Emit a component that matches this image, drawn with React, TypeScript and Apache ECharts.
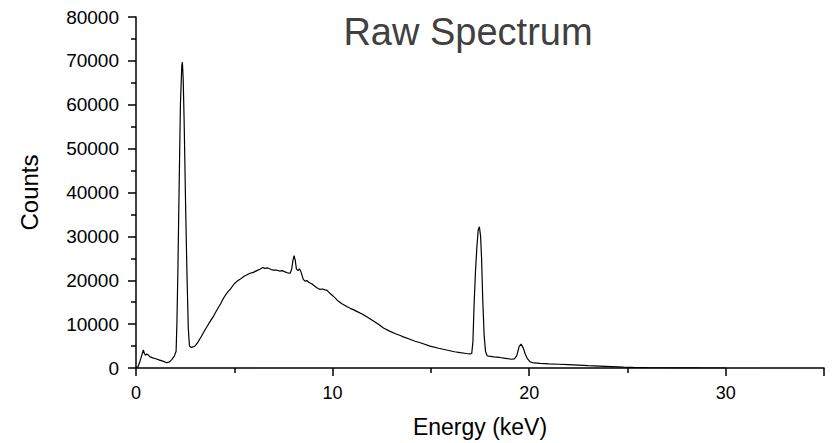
import React, { useEffect, useRef } from "react";
import * as echarts from "echarts";

const energy: number[] = [
  0.0, 0.1, 0.2, 0.3, 0.37, 0.43, 0.48, 0.55, 0.62, 0.7, 0.85, 1.0, 1.2, 1.4, 1.56, 1.7, 1.82, 1.95,
  2.04, 2.08, 2.13, 2.19, 2.26, 2.33, 2.36, 2.4, 2.45, 2.52, 2.59, 2.66, 2.72, 2.8, 2.9, 3.0,
  3.15, 3.3, 3.5, 3.7, 3.93, 4.1, 4.3, 4.45, 4.61, 4.8, 5.0, 5.12, 5.29, 5.5, 5.8, 5.97, 6.15,
  6.3, 6.45, 6.55, 6.7, 6.85, 6.99, 7.15, 7.3, 7.45, 7.58, 7.7, 7.84, 7.92, 7.98, 8.04, 8.1,
  8.16, 8.24, 8.32, 8.4, 8.51, 8.6, 8.7, 8.8, 8.94, 9.05, 9.2, 9.36, 9.5, 9.62, 9.72, 9.8,
  9.95, 10.1, 10.3, 10.5, 10.72, 10.9, 11.05, 11.23, 11.5, 11.8, 12.08, 12.35, 12.59, 12.9,
  13.2, 13.44, 13.6, 13.9, 14.2, 14.5, 14.96, 15.4, 15.8, 16.2, 16.49, 16.8, 17.0, 17.08,
  17.14, 17.2, 17.27, 17.34, 17.41, 17.47, 17.53, 17.58, 17.64, 17.71, 17.78, 17.86, 17.95,
  18.2, 18.5, 18.8, 19.1, 19.25, 19.37, 19.49, 19.59, 19.71, 19.8, 19.9, 20.05, 20.25, 20.56,
  21.0, 21.5, 22.0, 22.5, 23.0, 23.6, 24.2, 24.8, 25.3, 26.0, 26.8, 27.5, 28.3, 29.0, 30.0,
];

const counts: number[] = [
  0, 300, 1500, 3000, 4100, 3300, 2900, 3200, 3000, 2600, 2300, 2100, 1800, 1500, 1200, 1400, 1900, 2700,
  3800, 10000, 22000, 40000, 60000, 69000, 69700, 66000, 56000, 38000, 22000, 9000, 5000, 4700, 4800, 5000,
  5900, 7000, 8600, 10100, 11700, 13100, 14600, 15900, 17000, 18000, 19200, 19700, 20200, 20900, 21600, 21800, 22200,
  22500, 22900, 22700, 22800, 22500, 22300, 22300, 22100, 22200, 21900, 21700, 21600, 22500, 24400, 25600, 24600,
  22600, 22200, 22600, 21800, 20200, 19800, 19900, 19500, 19200, 18800, 18300, 17900, 18000, 17800, 17700, 17300,
  16700, 16100, 15200, 14600, 14000, 13600, 13300, 12900, 12300, 11500, 10700, 9900, 9100, 8400,
  7800, 7400, 7100, 6600, 6100, 5700, 5000, 4500, 4100, 3700, 3500, 3300, 3200, 3300,
  6000, 14500, 22000, 27500, 31500, 32200, 30000, 25000, 15500, 7500, 3800, 2800, 2700,
  2550, 2400, 2200, 2000, 2100, 2800, 4860, 5470, 4480, 3200, 2200, 1400, 1150, 1050,
  950, 850, 750, 650, 550, 450, 330, 220, 150, 100, 60, 30, 10, 0, 0,
];

const titleText = "Raw Spectrum";
const xName = "Energy (keV)";
const yName = "Counts";

const FONT = "'Liberation Sans', Arial, Helvetica, sans-serif";

export default function App() {
  const ref = useRef<HTMLDivElement>(null);
  useEffect(() => {
    if (!ref.current) return;
    const chart = echarts.init(ref.current, undefined, { renderer: "svg" });
    const data = energy.map((e, i) => [e, counts[i]]);
    chart.setOption({
      animation: false,
      backgroundColor: "#ffffff",
      textStyle: { fontFamily: FONT },
      grid: { left: 136, top: 17, right: 13, bottom: 75, containLabel: false },
      graphic: [
        {
          type: "text",
          x: 468,
          y: 32,
          style: {
            text: titleText,
            fill: "#404040",
            fontSize: 38,
            fontFamily: FONT,
            textAlign: "center",
            textVerticalAlign: "middle",
          },
        },
      ],
      xAxis: {
        type: "value",
        min: 0,
        max: 35,
        interval: 10,
        name: xName,
        nameLocation: "middle",
        nameGap: 47,
        nameTextStyle: { fontSize: 23, color: "#000", fontFamily: FONT },
        axisLine: { show: true, onZero: false, lineStyle: { color: "#000", width: 1.5 } },
        axisTick: { show: true, inside: false, length: 8, lineStyle: { color: "#000", width: 1.5 } },
        minorTick: { show: true, splitNumber: 2, length: 5, lineStyle: { color: "#000", width: 1.5 } },
        axisLabel: {
          fontSize: 18,
          color: "#000",
          margin: 16,
          fontFamily: FONT,
          showMaxLabel: false,
          formatter: (v: number) => (v % 10 === 0 ? String(v) : ""),
        },
        splitLine: { show: false },
        minorSplitLine: { show: false },
      },
      yAxis: {
        type: "value",
        min: 0,
        max: 80000,
        interval: 10000,
        name: yName,
        nameLocation: "middle",
        nameGap: 95,
        nameTextStyle: { fontSize: 24, color: "#000", fontFamily: FONT },
        axisLine: { show: true, onZero: false, lineStyle: { color: "#000", width: 1.5 } },
        axisTick: { show: true, inside: false, length: 8, lineStyle: { color: "#000", width: 1.5 } },
        minorTick: { show: true, splitNumber: 2, length: 5, lineStyle: { color: "#000", width: 1.5 } },
        axisLabel: {
          fontSize: 19,
          color: "#000",
          margin: 17,
          fontFamily: FONT,
          formatter: (v: number) => String(v),
        },
        splitLine: { show: false },
        minorSplitLine: { show: false },
      },
      series: [
        {
          type: "line",
          data,
          showSymbol: false,
          symbol: "none",
          lineStyle: { color: "#000", width: 1.2 },
        },
      ],
    });
    return () => chart.dispose();
  }, []);
  return <div ref={ref} style={{ width: 837, height: 443, position: "absolute", left: 0, top: 0 }} />;
}
